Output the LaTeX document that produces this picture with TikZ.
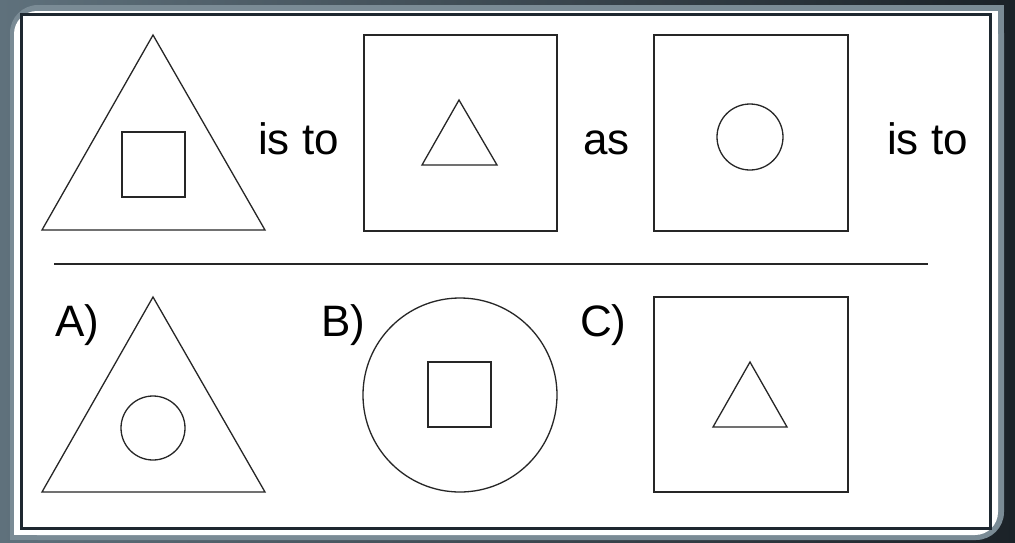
\documentclass[tikz,border=0pt]{standalone}
\usepackage{fontspec}
\setmainfont{Liberation Sans}
\definecolor{slatelight}{HTML}{5F717C}
\definecolor{slatedark}{HTML}{1B2228}
\definecolor{rimgray}{HTML}{7A8B95}
\definecolor{framedark}{HTML}{1E2830}
\definecolor{inkgray}{HTML}{262626}
\begin{document}
\begin{tikzpicture}[x=1pt,y=-1pt,
    figline/.style={line width=1.3pt,draw=inkgray,line join=miter},
    word/.style={font=\fontsize{44}{50}\selectfont,inner sep=0pt,anchor=base west}]
  \useasboundingbox (0,0) rectangle (1015,542);
  % background and slide panel
  \shade[left color=slatelight,right color=slatedark] (0,0) rectangle (1015,542);
  \fill[rimgray,rounded corners=28] (10,5) rectangle (1004,540);
  \fill[rimgray] (507,5) rectangle (1004,272);
  \fill[rimgray] (10,272) rectangle (507,540);
  \fill[white,rounded corners=23] (14,11) rectangle (998,535);
  \fill[white] (507,11) rectangle (998,272);
  \fill[white] (14,272) rectangle (507,535);
  \draw[framedark,line width=3pt] (21,14) rectangle (990,528);
  % top row
  \draw[figline] (153,35) -- (265,230) -- (42,230) -- cycle;
  \draw[figline] (122,132) rectangle (185,197);
  \node[word] (isto1) at (258,154) {is to};
  \draw[figline] (364,35) rectangle (557,231);
  \draw[figline] (459,100) -- (497,165) -- (422,165) -- cycle;
  \node[word] (as) at (583,154) {as};
  \draw[figline] (654,35) rectangle (848,231);
  \draw[figline] (750,137) circle (33);
  \node[word] (isto2) at (887,154) {is to};
  % separator
  \draw[line width=1.3pt,draw=inkgray] (54,264) -- (928,264);
  % answers
  \node[word] (labA) at (55,336) {A)};
  \draw[figline] (153,297) -- (265,492) -- (42,492) -- cycle;
  \draw[figline] (153,428) circle (32);
  \node[word] (labB) at (321,336) {B)};
  \draw[figline] (460,395) circle (97);
  \draw[figline] (428,362) rectangle (491,427);
  \node[word] (labC) at (580,336) {C)};
  \draw[figline] (654,297) rectangle (848,492);
  \draw[figline] (750,362) -- (787,427) -- (713,427) -- cycle;
\end{tikzpicture}
\end{document}
